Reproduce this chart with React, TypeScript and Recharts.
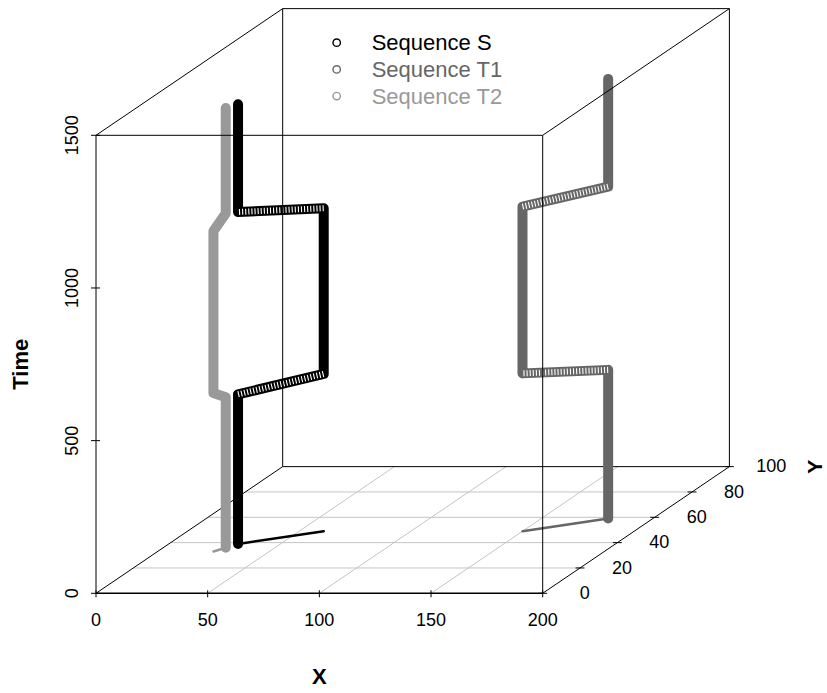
import React from 'react';
import { ComposedChart, Line, Scatter, XAxis, YAxis, Legend } from 'recharts';

// ---- data ----
const seqNames = ['Sequence S', 'Sequence T1', 'Sequence T2'];
const seqColors = ['#000000', '#666666', '#999999'];

// path vertices of each sequence: X, Y, Time
const sX = [31, 31, 61, 61, 31, 31];
const sY = [39, 39, 49, 49, 39, 39];
const sTime = [0, 490, 515, 1058, 1087, 1440];

const t1X = [180, 180, 150, 150, 180, 180];
const t1Y = [59, 59, 49, 49, 59, 59];
const t1Time = [0, 487, 517, 1063, 1087, 1440];

const t2X = [28, 28, 25, 25, 28, 28];
const t2Y = [36, 36, 33, 33, 36, 36];
const t2Time = [0, 493, 519, 1049, 1095, 1440];

const xTicks = [0, 50, 100, 150, 200];
const yTicks = [0, 20, 40, 60, 80, 100];
const timeTicks = [0, 500, 1000, 1500];

// ---- 3d box / oblique projection ----
const X_MAX = 200;
const Y_MAX = 100;
const T_MAX = 1500;
// the Y (depth) axis is drawn obliquely: per Y unit it shifts KX in X units and KT in Time units
const KX = 0.8358;
const KT = 4.1485;
const proj = (x: number, y: number, t: number) => ({ px: x + y * KX, py: t + y * KT });

// layout
const W = 827;
const H = 693;
const FONT = '"Liberation Sans", Arial, Helvetica, sans-serif';
const PLOT_LEFT = 96;
const PLOT_BOTTOM = 593.3;
const PX_PER_X = 2.2335;
const PX_PER_T = 0.30533;
const X_DOMAIN_MAX = 290;
const T_DOMAIN_MAX = 1940;
const Y_AXIS_W = 60;
const X_AXIS_H = 30;
const margin = {
  top: PLOT_BOTTOM - T_DOMAIN_MAX * PX_PER_T,
  left: PLOT_LEFT - Y_AXIS_W,
  right: W - (PLOT_LEFT + X_DOMAIN_MAX * PX_PER_X),
  bottom: H - PLOT_BOTTOM - X_AXIS_H,
};

type P = { px: number; py: number | null };
const edge = (a: number[], b: number[]): P[] => [proj(a[0], a[1], a[2]), proj(b[0], b[1], b[2])];
const joinSegs = (segs: P[][]): P[] =>
  segs.flatMap((s, i) => (i === 0 ? s : [{ px: s[0].px, py: null }, ...s]));

const gridData = joinSegs([
  ...yTicks.filter((d) => d > 0 && d < Y_MAX).map((d) => edge([0, d, 0], [X_MAX, d, 0])),
  ...xTicks.filter((x) => x > 0 && x < X_MAX).map((x) => edge([x, 0, 0], [x, Y_MAX, 0])),
]);

// axes lying under the series
const axesData = joinSegs([
  edge([0, 0, 0], [0, 0, T_MAX]),
  edge([0, 0, 0], [0, Y_MAX, 0]),
  edge([X_MAX, 0, 0], [X_MAX, Y_MAX, 0]),
  edge([0, Y_MAX, 0], [X_MAX, Y_MAX, 0]),
  ...yTicks.map((d) => edge([X_MAX - 2, d, 0], [X_MAX + 2, d, 0])),
]);
const xAxisData = edge([0, 0, 0], [X_MAX, 0, 0]);

// box edges drawn over the series
const boxData = joinSegs([
  edge([0, 0, T_MAX], [X_MAX, 0, T_MAX]),
  edge([X_MAX, 0, 0], [X_MAX, 0, T_MAX]),
  edge([0, Y_MAX, 0], [0, Y_MAX, T_MAX]),
  edge([X_MAX, Y_MAX, 0], [X_MAX, Y_MAX, T_MAX]),
  edge([0, Y_MAX, T_MAX], [X_MAX, Y_MAX, T_MAX]),
  edge([0, 0, T_MAX], [0, Y_MAX, T_MAX]),
  edge([X_MAX, 0, T_MAX], [X_MAX, Y_MAX, T_MAX]),
]);

const sequences = [
  { name: seqNames[0], color: seqColors[0], xs: sX, ys: sY, ts: sTime, hatch: true },
  { name: seqNames[1], color: seqColors[1], xs: t1X, ys: t1Y, ts: t1Time, hatch: true },
  { name: seqNames[2], color: seqColors[2], xs: t2X, ys: t2Y, ts: t2Time, hatch: false },
].map((s) => {
  const path = s.xs.map((x, i) => proj(x, s.ys[i], s.ts[i]));
  const moves = [
    [path[1], path[2]],
    [path[3], path[4]],
  ];
  const start = [proj(s.xs[0], s.ys[0], s.ts[0]), proj(s.xs[2], s.ys[2], s.ts[0])];
  return { ...s, path, moves, start };
});

const depthLabels = yTicks.map((d) => ({ ...proj(X_MAX, d, 0), label: String(d) }));
const depthTitle = [{ ...proj(X_MAX, Y_MAX, 0), label: 'Y' }];

// ---- custom pieces ----
const XTick = (props: any) => {
  const { x, y, payload } = props;
  return (
    <g>
      <line x1={x} x2={x} y1={y - 3} y2={y + 4} stroke="#000" />
      <text x={x} y={y + 26.7} dy="0.35em" textAnchor="middle" fontSize={18} fontFamily={FONT} fill="#000">
        {payload.value}
      </text>
    </g>
  );
};

const TimeTick = (props: any) => {
  const { x, y, payload } = props;
  return (
    <g>
      <line x1={x - 5} x2={x + 4} y1={y} y2={y} stroke="#000" />
      <text
        transform={`translate(${x - 24.3},${y}) rotate(-90)`}
        dy="0.35em"
        textAnchor="middle"
        fontSize={18}
        fontFamily={FONT}
        fill="#000"
      >
        {payload.value}
      </text>
    </g>
  );
};

const DepthLabel = (props: any) => {
  const { cx, cy, payload } = props;
  return (
    <text x={cx + 42} y={cy - 0.5} dy="0.35em" textAnchor="middle" fontSize={18} fontFamily={FONT} fill="#000">
      {payload.label}
    </text>
  );
};

const DepthTitle = (props: any) => {
  const { cx, cy, payload } = props;
  return (
    <text
      transform={`translate(${cx + 85.5},${cy}) rotate(-90)`}
      dy="0.35em"
      textAnchor="middle"
      fontSize={21}
      fontWeight="bold"
      fontFamily={FONT}
      fill="#000"
    >
      {payload.label}
    </text>
  );
};

const XTitle = () => (
  <text
    x={PLOT_LEFT + (X_MAX / 2) * PX_PER_X}
    y={676.7}
    dy="0.35em"
    textAnchor="middle"
    fontSize={22}
    fontWeight="bold"
    fontFamily={FONT}
    fill="#000"
  >
    X
  </text>
);

const TimeTitle = () => (
  <text
    transform={`translate(20,${PLOT_BOTTOM - (T_MAX / 2) * PX_PER_T}) rotate(-90)`}
    dy="0.35em"
    textAnchor="middle"
    fontSize={22}
    fontWeight="bold"
    fontFamily={FONT}
    fill="#000"
  >
    Time
  </text>
);

const LegendBox = (props: any) => {
  const payload = (props.payload || []).filter(
    (entry: any) => entry.type !== 'none' && seqNames.includes(entry.value)
  );
  return (
    <svg width={260} height={100} style={{ display: 'block', overflow: 'visible' }}>
      {payload.map((entry: any, i: number) => {
        const cy = 22.7 + i * 26.7;
        return (
          <g key={entry.value}>
            <circle cx={16.7} cy={cy} r={3.7} fill="none" stroke={entry.color} strokeWidth={1.4} />
            <text x={51.7} y={cy} dy="0.35em" fontSize={22} fontFamily={FONT} fill={entry.color}>
              {entry.value}
            </text>
          </g>
        );
      })}
    </svg>
  );
};

export default function App() {
  return (
    <div style={{ position: 'absolute', left: 0, top: 0, background: '#fff' }}>
      <ComposedChart width={W} height={H} margin={margin}>
        <XAxis
          type="number"
          dataKey="px"
          domain={[0, X_DOMAIN_MAX]}
          ticks={xTicks}
          interval={0}
          tick={<XTick />}
          tickLine={false}
          axisLine={false}
          tickSize={0}
          tickMargin={0}
          height={X_AXIS_H}
          label={XTitle}
        />
        <YAxis
          type="number"
          dataKey="py"
          domain={[0, T_DOMAIN_MAX]}
          ticks={timeTicks}
          interval={0}
          tick={<TimeTick />}
          tickLine={false}
          axisLine={false}
          tickSize={0}
          tickMargin={0}
          width={Y_AXIS_W}
          label={TimeTitle}
        />
        <Legend
          layout="horizontal"
          verticalAlign="middle"
          align="center"
          content={<LegendBox />}
          wrapperStyle={{ left: 320, top: 20, width: 260, height: 100 }}
        />

        <Line data={gridData} dataKey="py" stroke="#c4c4c4" strokeWidth={1} dot={false} activeDot={false}
          legendType="none" isAnimationActive={false} />
        <Line data={axesData} dataKey="py" stroke="#000" strokeWidth={1} dot={false} activeDot={false}
          legendType="none" isAnimationActive={false} />
        <Line data={xAxisData} dataKey="py" stroke="#000" strokeWidth={1.6} dot={false} activeDot={false}
          legendType="none" isAnimationActive={false} />

        {sequences.map((s) => (
          <Line key={s.name + '-start'} data={s.start} dataKey="py" stroke={s.color} strokeWidth={2.5}
            strokeLinecap="round" dot={false} activeDot={false} legendType="none" isAnimationActive={false} />
        ))}
        {sequences.map((s) => (
          <Line key={s.name} name={s.name} data={s.path} dataKey="py" stroke={s.color} strokeWidth={10}
            strokeLinecap="round" strokeLinejoin="round" dot={false} activeDot={false} isAnimationActive={false} />
        ))}
        {sequences
          .filter((s) => s.hatch)
          .flatMap((s) =>
            s.moves.map((m, j) => (
              <Line key={s.name + '-move' + j} data={m} dataKey="py" stroke="#fff" strokeWidth={6}
                strokeDasharray="1.1 2" dot={false} activeDot={false} legendType="none" isAnimationActive={false} />
            ))
          )}

        <Line data={boxData} dataKey="py" stroke="#000" strokeWidth={1} dot={false} activeDot={false}
          legendType="none" isAnimationActive={false} />

        <Scatter data={depthLabels} shape={<DepthLabel />} legendType="none" isAnimationActive={false} />
        <Scatter data={depthTitle} shape={<DepthTitle />} legendType="none" isAnimationActive={false} />
      </ComposedChart>
    </div>
  );
}
